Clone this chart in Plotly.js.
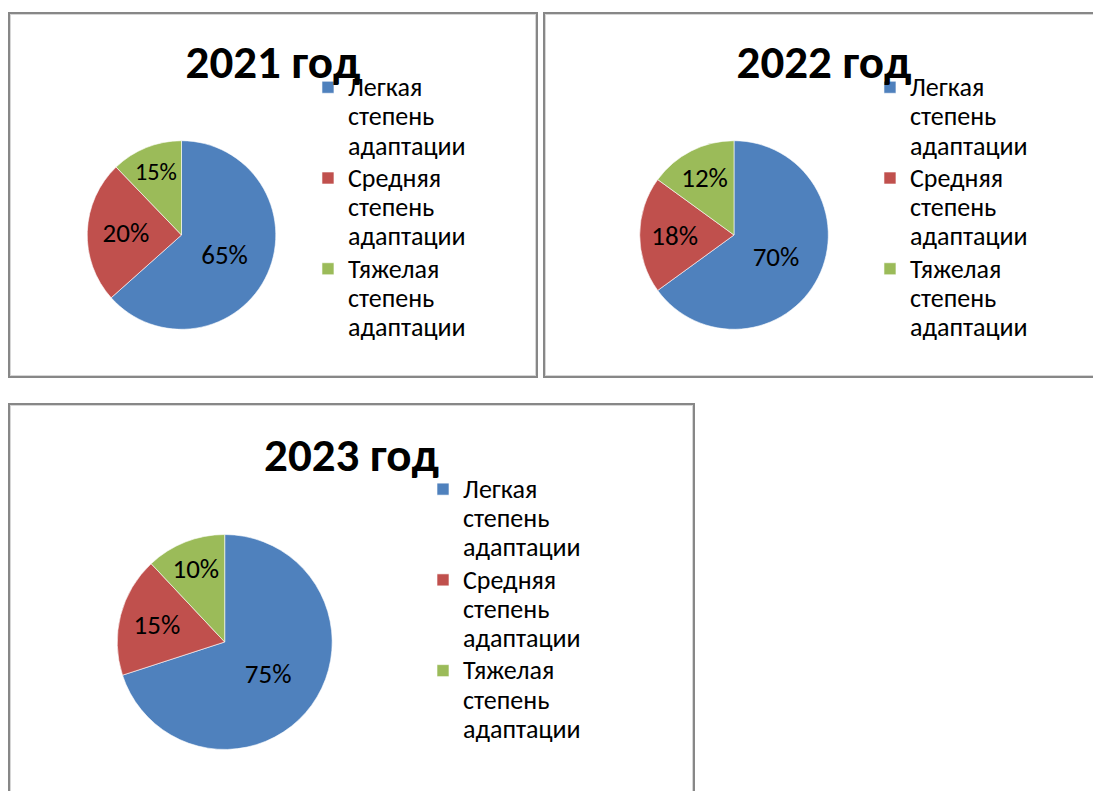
<!DOCTYPE html>
<html>
<head>
<meta charset="utf-8">
<script src="https://cdn.plot.ly/plotly-3.0.1.min.js"></script>
<style>
  html, body { margin: 0; padding: 0; background: #ffffff; overflow: hidden; width: 1093px; height: 791px; }
  .panel { position: absolute; border: 2px solid #878787; box-shadow: inset 0 0 0 1px #d6d6d6; background: #fff; overflow: hidden; }
  #p1 { left: 8px; top: 12px; width: 526px; height: 362px; }
  #p2 { left: 543px; top: 12px; width: 558px; height: 362px; }
  #p3 { left: 8px; top: 403px; width: 683px; height: 400px; }
</style>
</head>
<body>
<div class="panel" id="p1"><div id="c1"></div></div>
<div class="panel" id="p2"><div id="c2"></div></div>
<div class="panel" id="p3"><div id="c3"></div></div>
<script>
// ---- data ----
var categories = [
  ["Легкая", "степень", "адаптации"],
  ["Средняя", "степень", "адаптации"],
  ["Тяжелая", "степень", "адаптации"]
];
var years = ["2021 год", "2022 год", "2023 год"];
// slice sizes as drawn in the picture
var shares2021 = [63.4, 24.4, 12.2];
var shares2022 = [65, 20, 15];
var shares2023 = [70, 18, 12];
// data labels as printed on the slices
var labels2021 = ["65%", "20%", "15%"];
var labels2022 = ["70%", "18%", "12%"];
var labels2023 = ["75%", "15%", "10%"];

// ---- styling ----
var colors = ["#4F81BD", "#C0504D", "#9BBB59"];
var FONT = "Calibri, Carlito, 'Open Sans', sans-serif";
var LEGEND_GLYPH = 26;

var legendLabels = categories.map(function (lines) {
  return lines.map(function (s) {
    return "<span style='font-size:" + LEGEND_GLYPH + "px'>" + s + "</span>";
  }).join("<br>");
});

function makeChart(id, title, shares, labels, opt) {
  var trace = {
    type: "pie",
    labels: legendLabels,
    values: shares,
    text: labels,
    textinfo: "text",
    textposition: "inside",
    insidetextorientation: "horizontal",
    textfont: { family: FONT, size: 27, color: "#000000" },
    sort: false,
    direction: "clockwise",
    rotation: 0,
    hoverinfo: "none",
    marker: { colors: colors, line: { color: "#ffffff", width: 0.6 } },
    domain: { x: opt.dx, y: opt.dy }
  };
  var layout = {
    width: opt.w,
    height: opt.h,
    margin: { l: 0, r: 0, t: 0, b: 0 },
    paper_bgcolor: "rgba(0,0,0,0)",
    plot_bgcolor: "rgba(0,0,0,0)",
    font: { family: FONT, color: "#000000" },
    title: {
      text: "<b>" + title + "</b>",
      font: { family: FONT, size: 47, color: "#000000" },
      x: 0.5, xanchor: "center", xref: "paper",
      y: opt.ty, yanchor: "middle", yref: "container"
    },
    showlegend: true,
    legend: {
      x: opt.lx, xanchor: "left",
      y: opt.ly, yanchor: "top",
      valign: "top",
      bgcolor: "rgba(0,0,0,0)",
      font: { family: FONT, size: 22.5, color: "#000000" },
      itemclick: false, itemdoubleclick: false
    }
  };
  Plotly.newPlot(id, [trace], layout, { staticPlot: true, displayModeBar: false });
}

makeChart("c1", years[0], shares2021, labels2021, {
  w: 526, h: 362, dx: [0.1468, 0.5053], dy: [0.129, 0.650], ty: 0.8674, lx: 0.5665, ly: 0.856
});
makeChart("c2", years[1], shares2022, labels2022, {
  w: 558, h: 362, dx: [0.1697, 0.5077], dy: [0.129, 0.650], ty: 0.8674, lx: 0.5824, ly: 0.856
});
makeChart("c3", years[2], shares2023, labels2023, {
  w: 683, h: 400, dx: [0.157, 0.4717], dy: [0.1388, 0.6763], ty: 0.875, lx: 0.6047, ly: 0.8425
});
</script>
</body>
</html>
